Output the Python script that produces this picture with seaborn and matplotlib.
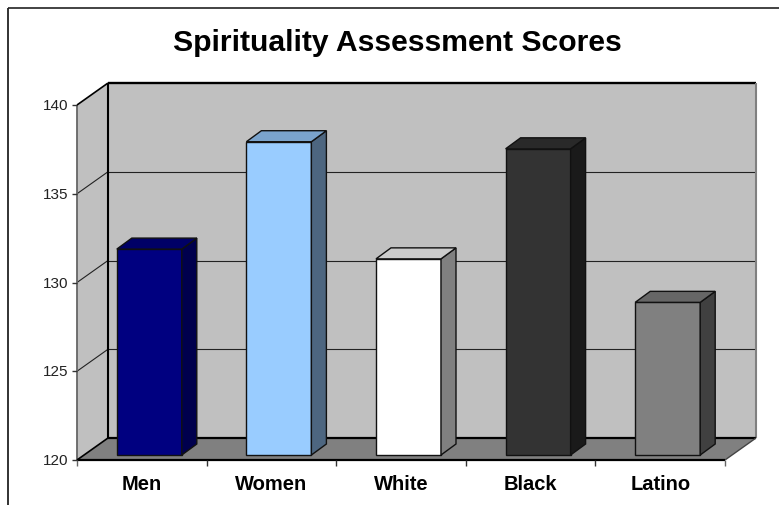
import matplotlib
matplotlib.use("Agg")
import matplotlib.pyplot as plt
import seaborn as sns
from matplotlib.patches import Polygon
from matplotlib.lines import Line2D

categories = ["Men", "Women", "White", "Black", "Latino"]
scores = [131.6, 137.65, 131.05, 137.25, 128.6]
front_colors = ["#000080", "#99CCFF", "#FFFFFF", "#333333", "#808080"]
top_colors = ["#000066", "#7AA3CC", "#CCCCCC", "#292929", "#666666"]
side_colors = ["#00004D", "#4D6680", "#808080", "#1A1A1A", "#404040"]
y_ticks = [120, 125, 130, 135, 140]
title = "Spirituality Assessment Scores"

W, H = 779, 505
sns.set_style("white")
plt.rcParams["font.family"] = ["Liberation Sans", "DejaVu Sans"]

fig = plt.figure(figsize=(W / 100, H / 100), dpi=100, facecolor="white")
L, R, T, B = 77, 725, 105, 460
ax = fig.add_axes([L / W, 1 - B / H, (R - L) / W, (B - T) / H])
ax.patch.set_alpha(0)

DX, DY = 31, 22          # wall depth in pixels
BX, BY = 15, 11          # bar depth in pixels
OX, OY = 7.5, 5          # bar offset from the front plane

sns.barplot(x=categories, y=scores, hue=categories, palette=front_colors,
            legend=False, width=65 / 129.6, ax=ax, zorder=5,
            edgecolor="#111111", linewidth=1.0, saturation=1)
ax.set_xlim(-0.5, 4.5)
ax.set_ylim(120, 140)
ax.set_xlabel("")
ax.set_ylabel("")


def px(x, y):
    return ax.transData.transform((x, y))


def poly(points, face, edge=None, lw=1.0, z=1):
    fig.add_artist(Polygon(points, closed=True, facecolor=face,
                           edgecolor=edge if edge else "none", linewidth=lw,
                           transform=None, zorder=z))


def line(a, b, color="black", lw=1.0, z=2):
    fig.add_artist(Line2D([a[0], b[0]], [a[1], b[1]], color=color, linewidth=lw,
                          transform=None, zorder=z, solid_capstyle="butt"))


fig.canvas.draw()
x0, x1 = -0.5, 4.5
fl, fr = px(x0, 120), px(x1, 120)
tl, tr = px(x0, 140), px(x1, 140)
d = (DX, DY)
add = lambda p, o: (p[0] + o[0], p[1] + o[1])

# walls and floor
poly([fl, tl, add(tl, d), add(fl, d)], "#C0C0C0")
poly([add(fl, d), add(tl, d), add(tr, d), add(fr, d)], "#C0C0C0")
poly([fl, fr, add(fr, d), add(fl, d)], "#808080")

# gridlines on side wall and back wall
for t in y_ticks[1:-1]:
    p, q = px(x0, t), px(x1, t)
    line(p, add(p, d), "#222222", 0.8)
    line(add(p, d), add(q, d), "#222222", 0.8)

# frame of the box
line(fl, tl, "#666666", 1.3)
line(tl, add(tl, d), "black", 1.2)
line(add(tl, d), add(tr, d), "black", 1.7)
line(add(tl, d), add(fl, d), "black", 1.5)
line(add(tr, d), add(fr, d), "#808080", 1.5)
line(fl, add(fl, d), "black", 1.2)
line(add(fl, d), add(fr, d), "black", 1.6)
line(fr, add(fr, d), "#444444", 1.0)
line(fl, fr, "black", 1.6)

# ticks and y labels
for i in range(6):
    p = px(x0 + i, 120)
    line(p, (p[0], p[1] - 6), "#333333" if 0 < i < 5 else "#666666", 1.0)
for t in y_ticks:
    p = px(x0, t)
    line(p, (p[0] - 5, p[1]), "#333333", 1.0)
    fig.text((p[0] - 9) / W, (p[1] - 1) / H, str(t), ha="right", va="center",
             fontsize=11, color="#222222")

# bars: move fronts by the depth offset, add top and side faces
off = (OX, OY)
for bar, val, top_c, side_c in zip(ax.patches, scores, top_colors, side_colors):
    bar.set_y(120)
    bar.set_height(val - 120)
    a = add(px(bar.get_x(), 120), off)
    b = add(px(bar.get_x() + bar.get_width(), 120), off)
    c = add(px(bar.get_x() + bar.get_width(), val), off)
    e = add(px(bar.get_x(), val), off)
    s = (BX, BY)
    poly([a, b, c, e], bar.get_facecolor(), "#111111", 1.0, 5)
    poly([b, c, add(c, s), add(b, s)], side_c, "#111111", 1.0, 5)
    poly([e, c, add(c, s), add(e, s)], top_c, "#111111", 1.0, 5)
    bar.set_visible(False)

ax.set_xticks(range(5))
ax.set_xticklabels(categories, fontsize=14.5, fontweight="bold", color="black")
ax.set_yticks([])
ax.tick_params(axis="x", length=0, pad=11)
sns.despine(ax=ax, left=True, bottom=True)

# outer chart frame, open on the cropped right and bottom sides
line((7.5, 0), (7.5, H - 7.5), "#222222", 1.3, 6)
line((7.5, H - 7.5), (W, H - 7.5), "#222222", 1.2, 6)

fig.text(397 / W, 1 - 43 / H, title, ha="center", va="center",
         fontsize=21.7, fontweight="bold", color="black")

fig.savefig("out.png", dpi=100)
